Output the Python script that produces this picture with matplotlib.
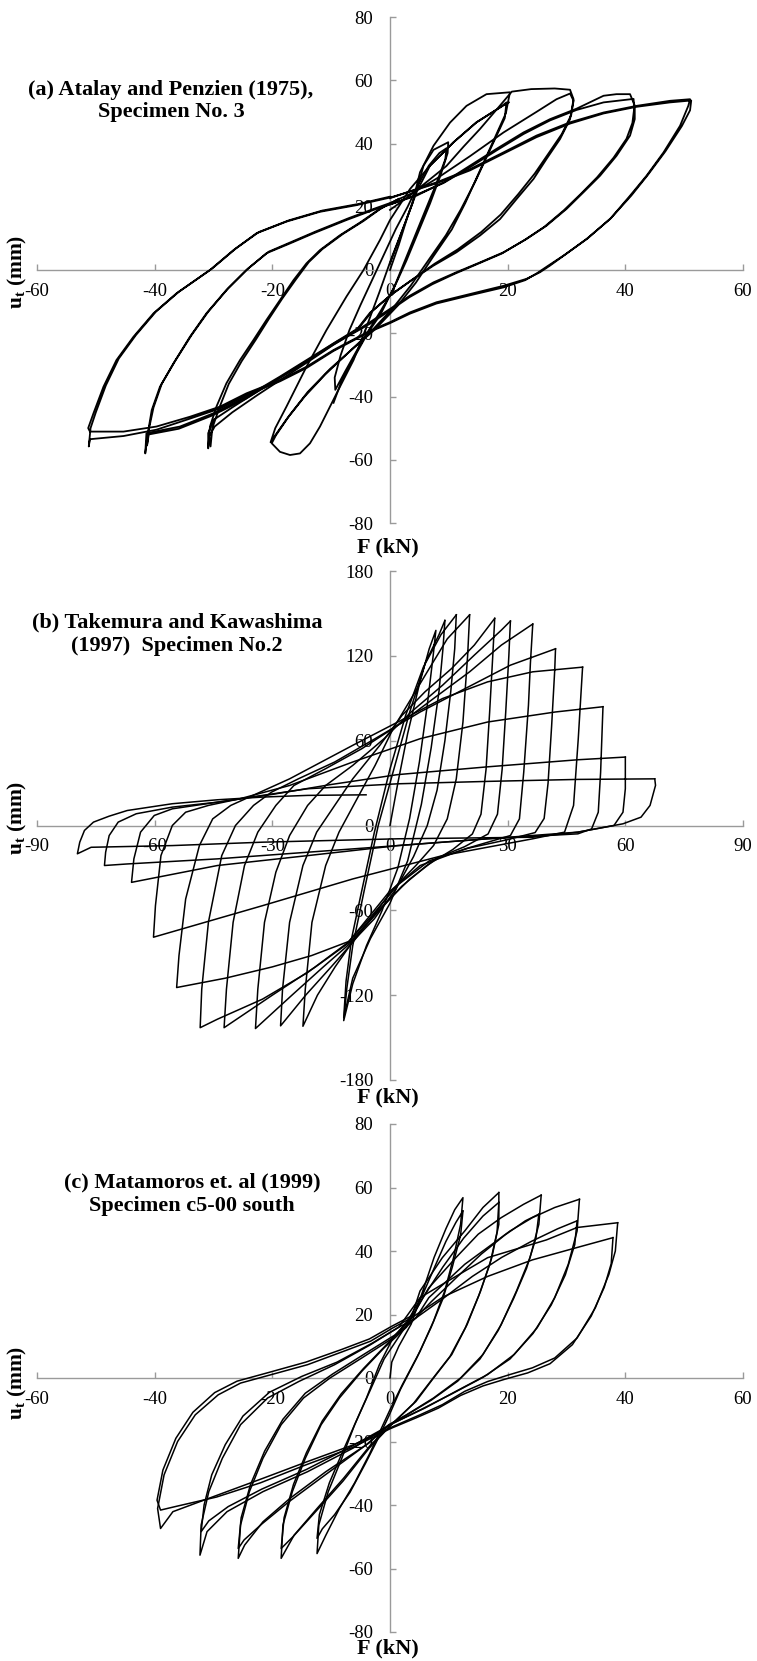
import numpy as np
import matplotlib
matplotlib.use("Agg")
import matplotlib.pyplot as plt

plt.rcParams["font.family"] = ["Liberation Serif", "DejaVu Serif"]
plt.rcParams["mathtext.fontset"] = "custom"
plt.rcParams["mathtext.rm"] = "Liberation Serif"
plt.rcParams["mathtext.bf"] = "Liberation Serif:bold"
plt.rcParams["mathtext.it"] = "Liberation Serif:italic"
plt.rcParams["axes.unicode_minus"] = False

# ---------------------------------------------------------------------------
# (a) Atalay and Penzien (1975), Specimen No. 3  -- one array per amplitude
# ---------------------------------------------------------------------------
a_loop10 = [(0.0, 0.0), (1.5, 8.0), (3.0, 17.0), (4.5, 25.0), (5.7, 33.0), (7.4, 38.0), (9.9, 40.4),
            (9.8, 37.0), (8.6, 30.0), (6.8, 21.0), (4.8, 12.0), (2.8, 3.0), (0.6, -6.0), (-1.6, -13.0),
            (-3.6, -19.0), (-5.8, -26.0), (-7.6, -32.0), (-9.3, -37.9), (-9.4, -34.0), (-8.4, -27.0),
            (-6.9, -19.0), (-5.0, -11.0), (-3.0, -3.0), (-1.0, 5.0), (1.0, 13.0), (3.0, 20.0), (4.8, 27.0),
            (6.6, 33.0), (8.4, 37.0), (9.6, 38.5), (9.4, 35.0), (7.8, 27.0), (5.6, 17.0), (3.2, 6.0),
            (0.8, -5.0), (-1.6, -14.0), (-3.8, -20.0), (-6.2, -28.0), (-8.2, -35.0), (-9.6, -42.0)]

a_loop20 = [(0.0, 2.0), (2.0, 12.0), (3.8, 21.0), (5.1, 30.9), (7.4, 39.3), (10.2, 46.6), (13.0, 51.9),
            (16.4, 55.6), (20.4, 56.2), (20.1, 53.5),
            (19.7, 49.6), (17.4, 40.1), (15.1, 30.7), (12.8, 21.2), (10.5, 12.8), (7.4, 4.4), (4.4, -4.0),
            (1.3, -11.3), (-2.5, -18.7), (-6.4, -25.0), (-10.2, -31.3), (-14.0, -38.6), (-17.1, -46.0),
            (-19.4, -52.3), (-20.1, -54.8),
            (-18.7, -57.5), (-17.0, -58.5), (-15.3, -58.0), (-13.6, -54.8), (-11.9, -49.5), (-10.2, -43.2),
            (-8.5, -36.9), (-6.2, -28.5), (-4.0, -18.0), (-1.8, -7.0), (0.3, 4.0), (2.6, 15.0), (4.6, 25.0),
            (6.8, 33.0), (10.8, 40.4), (14.7, 46.7), (18.7, 51.4), (19.8, 53.0),
            (19.5, 48.0), (17.0, 38.0), (14.5, 28.0), (12.0, 19.0), (9.5, 11.0), (6.5, 3.0), (3.5, -5.0),
            (0.5, -12.0), (-3.0, -19.0), (-7.0, -26.0), (-11.0, -33.0), (-14.5, -40.0), (-17.5, -47.0),
            (-19.6, -52.5), (-20.3, -54.5),
            (-19.5, -50.0), (-17.6, -43.2), (-14.2, -30.6), (-10.8, -19.0), (-7.4, -8.4), (-4.5, 0.0),
            (-1.7, 9.5), (0.0, 15.8), (3.4, 25.6), (6.8, 33.0), (10.8, 40.4), (14.7, 46.7), (18.7, 51.4),
            (20.2, 53.0)]

a_loop30 = [(0.0, 19.0), (3.0, 23.0), (6.0, 27.5), (9.6, 32.9), (12.5, 39.0), (15.3, 44.6), (18.7, 52.0),
            (20.7, 56.4), (24.0, 57.2), (28.0, 57.4), (30.6, 57.0), (31.2, 54.0),
            (30.6, 47.7), (28.9, 41.4), (26.6, 35.1), (24.4, 28.8), (21.5, 22.4), (18.7, 16.1), (15.3, 10.9),
            (11.3, 5.6), (7.4, 1.4), (4.0, -2.8), (0.0, -8.1), (-3.4, -13.5), (-5.5, -18.5), (-9.0, -22.5),
            (-13.0, -27.4), (-17.6, -32.7), (-22.1, -37.9), (-26.6, -43.2), (-30.0, -47.4), (-30.9, -51.6),
            (-30.9, -56.4),
            (-30.6, -49.5), (-29.5, -43.2), (-27.8, -35.8), (-25.5, -28.5), (-23.2, -22.1), (-21.0, -15.8),
            (-18.7, -9.5), (-16.4, -3.2), (-14.2, 2.1), (-11.9, 6.3), (-8.5, 11.0), (-5.1, 15.0), (-2.0, 19.0),
            (1.0, 22.0), (4.0, 24.5), (8.0, 29.0), (13.6, 36.0), (19.3, 43.5), (24.9, 50.0), (28.3, 54.0),
            (30.6, 55.8), (31.2, 53.5),
            (30.8, 49.0), (29.2, 43.0), (27.0, 37.0), (24.6, 30.5), (21.8, 24.0), (18.8, 17.5), (15.5, 12.0),
            (11.5, 6.5), (7.6, 2.0), (4.2, -2.5), (0.4, -7.5), (-3.0, -13.0), (-5.5, -18.8), (-9.5, -23.5),
            (-13.5, -28.5), (-18.0, -34.0), (-22.5, -39.5), (-26.8, -45.0), (-29.8, -49.5), (-30.7, -52.5),
            (-30.5, -55.8),
            (-30.2, -50.0), (-29.0, -43.5), (-27.4, -36.0), (-25.2, -28.8), (-22.8, -22.0), (-20.6, -15.5),
            (-18.3, -9.0), (-16.0, -3.0), (-13.8, 2.5), (-11.5, 6.6), (-8.0, 11.4), (-4.5, 15.5),
            (-1.5, 19.5), (1.5, 22.5)]

a_loop40 = [(0.0, 20.8), (4.5, 23.5), (9.1, 27.7), (13.6, 33.0), (18.1, 38.3), (22.7, 43.5), (27.2, 47.7),
            (31.7, 51.0), (36.3, 55.1), (38.5, 55.6), (40.8, 55.6), (41.6, 52.0),
            (41.6, 47.7), (40.8, 42.5), (38.5, 36.1), (35.7, 29.8), (32.9, 24.6), (30.0, 19.3), (26.6, 14.0),
            (23.2, 9.8), (19.3, 5.6), (15.3, 2.4), (11.3, -0.7), (7.4, -3.9), (3.4, -8.1), (0.0, -12.3),
            (-3.4, -16.5), (-5.1, -18.5), (-9.6, -23.2), (-14.2, -28.5), (-18.7, -33.7), (-24.4, -40.0),
            (-30.0, -45.3), (-35.7, -49.5), (-41.4, -51.6), (-41.6, -58.0),
            (-41.2, -52.0), (-40.5, -44.3), (-39.1, -36.9), (-36.8, -29.5), (-34.0, -21.1), (-31.2, -13.7),
            (-27.8, -6.3), (-24.4, 0.0), (-21.0, 5.3), (-17.0, 8.4), (-13.0, 11.6), (-7.4, 15.8),
            (-2.8, 19.0), (0.5, 21.0), (4.5, 23.8), (9.1, 27.5), (13.6, 32.5), (18.1, 37.8), (22.7, 43.0),
            (27.2, 47.3), (31.7, 50.6), (36.3, 53.0), (41.4, 54.1), (41.5, 51.0),
            (41.2, 46.5), (40.2, 41.5), (38.0, 35.5), (35.2, 29.3), (32.4, 24.0), (29.5, 18.8), (26.2, 13.6),
            (22.8, 9.4), (19.0, 5.2), (15.0, 2.0), (11.0, -1.2), (7.2, -4.5), (3.3, -8.6), (0.0, -12.8),
            (-3.4, -17.0), (-5.2, -18.9), (-9.8, -23.8), (-14.4, -29.2), (-19.0, -34.5), (-24.6, -40.8),
            (-30.2, -46.0), (-35.9, -50.2), (-41.0, -52.0), (-41.3, -55.5),
            (-41.0, -50.5), (-40.2, -43.5), (-38.8, -36.0), (-36.5, -28.7), (-33.7, -20.5), (-30.9, -13.2),
            (-27.5, -5.8), (-24.1, 0.5), (-20.6, 5.8), (-16.6, 9.0), (-12.6, 12.2), (-7.0, 16.4),
            (-2.5, 19.5), (0.5, 21.5)]

a_loop50 = [(0.0, 22.7), (4.5, 25.6), (7.9, 27.7), (13.6, 31.9), (19.3, 37.2), (24.9, 42.5), (30.6, 46.7),
            (36.3, 49.8), (41.9, 51.9), (47.6, 53.5), (51.0, 54.0), (50.7, 51.9),
            (49.3, 45.6), (46.5, 37.2), (43.6, 29.8), (40.8, 23.5), (37.4, 16.1), (33.4, 9.8), (29.5, 4.5),
            (27.2, 1.4), (25.5, -0.7), (23.2, -2.8), (19.3, -5.0), (13.6, -7.6), (7.9, -10.2), (3.4, -13.4),
            (0.0, -16.5), (-3.4, -19.2), (-9.6, -25.3), (-14.2, -30.6), (-18.7, -34.8), (-24.4, -39.0),
            (-28.9, -43.2), (-34.0, -46.4), (-39.7, -49.5), (-45.3, -51.1), (-51.0, -51.1),
            (-51.3, -50.0), (-50.4, -45.3), (-48.7, -36.9), (-46.5, -28.5), (-43.6, -21.1), (-40.2, -13.7),
            (-36.3, -7.4), (-30.6, 0.0), (-26.6, 6.3), (-22.7, 11.6), (-17.6, 15.3), (-11.9, 18.4),
            (-5.7, 20.5), (0.0, 22.9), (4.5, 25.4), (7.9, 27.4), (13.6, 31.5), (19.3, 36.8), (24.9, 42.0),
            (30.6, 46.3), (36.3, 49.5), (41.9, 51.6), (47.6, 53.0), (51.2, 53.6),
            (51.0, 50.5), (49.6, 45.5), (46.8, 37.5), (43.8, 30.0), (41.0, 23.5), (37.6, 16.5), (33.6, 10.0),
            (29.7, 4.8), (27.0, 1.5), (25.0, -1.0), (23.0, -3.2), (19.3, -5.5), (13.6, -8.0), (7.9, -10.6),
            (3.4, -13.8), (0.0, -16.8), (-3.4, -19.5), (-9.6, -25.6), (-14.2, -31.0), (-18.7, -35.2),
            (-24.4, -39.6), (-28.9, -43.8), (-34.0, -47.0), (-39.7, -50.5), (-45.3, -52.5), (-51.0, -53.5),
            (-51.2, -55.8),
            (-50.9, -50.0), (-50.0, -45.0), (-48.3, -36.5), (-46.1, -28.0), (-43.2, -20.6), (-39.8, -13.2),
            (-35.9, -6.9), (-30.2, 0.5), (-26.2, 6.8), (-22.3, 12.0), (-17.2, 15.7), (-11.5, 18.8),
            (-5.3, 20.9), (0.0, 23.2)]

# ---------------------------------------------------------------------------
# (b) Takemura and Kawashima (1997) Specimen No.2  -- one array per cycle
# ---------------------------------------------------------------------------
b_cyc01 = [(0.0, 0.0), (2.0, 30.0), (4.5, 65.0), (7.5, 100.0), (10.0, 125.0), (11.7, 138.0),
           (11.0, 120.0), (9.5, 85.0), (7.5, 45.0), (5.0, 5.0), (2.0, -30.0), (-2.0, -60.0), (-6.0, -85.0),
           (-9.5, -112.0), (-11.8, -138.0),
           (-11.0, -115.0), (-9.5, -85.0), (-6.5, -45.0), (-3.0, 0.0), (1.0, 40.0), (5.0, 80.0),
           (9.0, 115.0), (12.5, 135.0), (14.0, 145.0)]
b_cyc02 = [(14.0, 145.0), (13.5, 125.0), (12.5, 95.0), (10.5, 55.0), (8.0, 15.0), (4.5, -25.0), (0.0, -55.0),
           (-5.0, -80.0), (-9.5, -108.0), (-11.8, -136.0),
           (-11.2, -110.0), (-9.8, -80.0), (-7.5, -50.0), (-4.0, -5.0), (0.0, 40.0), (4.0, 78.0),
           (8.5, 112.0), (13.0, 135.0), (16.9, 149.0)]
b_cyc03 = [(16.9, 149.0), (16.5, 125.0), (15.5, 95.0), (14.0, 60.0), (12.0, 25.0), (9.5, 0.0), (6.0, -22.0),
           (1.5, -45.0), (-4.0, -66.0), (-9.5, -82.0), (-14.0, -100.0), (-18.5, -120.0), (-22.2, -142.0),
           (-21.6, -115.8), (-19.9, -68.5), (-16.4, -28.3), (-13.0, -4.7), (-8.4, 18.9), (-3.8, 42.5),
           (0.8, 68.5), (5.4, 89.8), (10.0, 111.0), (14.6, 132.0), (20.3, 149.0)]
b_cyc04 = [(20.3, 149.0), (19.8, 120.5), (18.6, 73.2), (16.9, 33.0), (14.6, 4.7), (11.1, -14.2), (6.6, -28.3),
           (0.8, -44.9), (-4.9, -66.1), (-9.5, -82.7), (-15.0, -100.0), (-21.5, -120.0), (-27.9, -141.7),
           (-27.4, -115.8), (-25.6, -68.5), (-22.2, -28.3), (-18.7, -4.7), (-14.1, 14.2), (-9.5, 33.0),
           (-2.6, 56.7), (3.1, 78.0), (8.9, 94.5), (15.7, 111.0), (21.5, 127.6), (26.7, 146.5)]
b_cyc05 = [(26.7, 146.5), (26.2, 120.0), (25.4, 80.0), (24.5, 40.0), (23.2, 8.0), (21.0, -6.0), (16.0, -17.0),
           (9.5, -28.0), (3.0, -43.0), (-4.0, -64.0), (-10.0, -83.0), (-17.0, -100.0), (-25.0, -120.0),
           (-34.3, -143.6),
           (-33.7, -115.8), (-32.0, -68.5), (-29.1, -33.0), (-25.6, -7.1), (-21.0, 14.2), (-16.4, 28.3),
           (-9.5, 42.5), (-1.5, 61.4), (5.4, 80.3), (13.4, 99.2), (21.5, 120.5), (28.4, 138.2), (30.7, 144.6)]
b_cyc06 = [(30.7, 144.6), (30.3, 120.0), (29.5, 80.0), (28.6, 40.0), (27.4, 8.0), (25.0, -6.0), (19.0, -15.0),
           (12.0, -23.0), (5.0, -38.0), (-3.0, -60.0), (-10.0, -82.0), (-19.0, -100.0), (-30.0, -120.0),
           (-42.3, -143.0),
           (-41.7, -115.8), (-40.0, -68.5), (-37.1, -28.3), (-33.7, -4.7), (-29.1, 14.2), (-24.5, 28.3),
           (-16.4, 40.2), (-7.2, 54.3), (2.0, 70.9), (11.1, 89.8), (20.3, 108.7), (28.4, 127.6),
           (34.1, 138.2), (36.4, 142.5)]
b_cyc07 = [(36.4, 142.5), (35.8, 115.0), (35.3, 85.0), (34.1, 37.8), (33.0, 4.7), (30.7, -7.1), (19.2, -16.5),
           (7.7, -28.3), (-0.3, -47.2), (-7.2, -70.9), (-10.7, -82.7), (-21.0, -104.0), (-32.5, -122.8),
           (-44.0, -137.0), (-48.4, -143.0),
           (-48.0, -115.8), (-46.3, -68.5), (-42.9, -21.3), (-39.4, 0.0), (-34.8, 14.2), (-30.2, 23.6),
           (-23.3, 33.1), (-14.1, 44.9), (-3.8, 61.4), (7.7, 80.3), (19.2, 96.9), (30.7, 113.4), (42.2, 125.0)]
b_cyc08 = [(42.2, 125.0), (42.0, 110.0), (41.2, 70.0), (40.3, 30.0), (39.3, 5.0), (37.0, -5.0), (30.0, -10.0),
           (20.0, -16.0), (10.0, -25.0), (2.0, -42.0), (-5.0, -65.0), (-10.5, -82.0), (-20.0, -92.0),
           (-30.0, -100.0), (-42.0, -108.0), (-54.4, -114.6),
           (-53.8, -92.0), (-52.1, -52.0), (-48.6, -14.2), (-45.2, 4.7), (-40.6, 14.2), (-25.6, 33.0),
           (-9.5, 56.7), (2.0, 73.2), (13.4, 89.8), (24.9, 101.6), (36.4, 108.7), (49.1, 112.0)]
b_cyc09 = [(49.1, 112.0), (48.0, 61.4), (46.8, 14.2), (44.5, -4.7), (36.4, -9.4), (13.4, -21.3),
           (-9.5, -37.8), (-32.5, -56.7), (-60.3, -79.0),
           (-59.8, -56.7), (-58.4, -21.3), (-55.5, 0.0), (-52.1, 9.4), (-46.3, 14.2), (-38.3, 18.9),
           (-25.6, 28.3), (-9.5, 44.9), (7.7, 61.4), (24.9, 73.2), (42.2, 80.3), (54.3, 84.0)]
b_cyc10 = [(54.3, 84.0), (53.7, 37.8), (53.1, 9.4), (51.4, -2.4), (47.9, -5.9), (24.9, -9.4), (2.0, -14.2),
           (-21.0, -21.3), (-44.0, -28.3), (-65.9, -40.2),
           (-65.3, -23.6), (-63.6, -4.7), (-60.1, 7.1), (-55.5, 11.8), (-44.0, 16.5), (-30.0, 22.0),
           (-15.0, 29.0), (2.0, 36.0), (24.9, 41.5), (47.9, 46.5), (60.0, 48.4)]
b_cyc11 = [(60.0, 48.4), (60.0, 26.0), (59.4, 9.4), (57.1, 0.0), (47.9, -4.7), (24.9, -9.4), (2.0, -14.2),
           (-21.0, -18.9), (-44.0, -23.6), (-67.0, -27.2), (-72.8, -28.3),
           (-72.5, -18.9), (-71.6, -7.1), (-69.3, 2.4), (-64.7, 8.3), (-55.5, 13.0), (-44.0, 16.5),
           (-32.5, 21.3), (-21.0, 26.0), (2.0, 29.5), (24.9, 31.2), (47.9, 32.6), (67.5, 33.0)]
b_cyc12 = [(67.5, 33.0), (67.7, 28.4), (66.3, 14.2), (64.0, 5.9), (59.4, 1.2), (47.9, -4.7), (36.4, -8.3),
           (2.0, -9.4), (-32.5, -11.8), (-55.5, -14.2), (-76.2, -15.4), (-79.7, -20.0),
           (-79.1, -11.8), (-77.9, -3.5), (-75.6, 2.4), (-71.6, 6.6), (-67.0, 10.6), (-55.5, 15.4),
           (-44.0, 18.2), (-32.5, 20.1), (-21.0, 21.3), (-6.1, 21.7)]

# ---------------------------------------------------------------------------
# (c) Matamoros et. al (1999) Specimen c5-00 south  -- one array per cycle
# ---------------------------------------------------------------------------
c_cyc01 = [(0.0, 0.0), (0.3, 5.0), (1.5, 10.0), (3.6, 17.0), (5.5, 27.0), (7.5, 38.0), (9.5, 47.0),
           (11.0, 53.0), (12.4, 56.8),
           (12.0, 48.4), (10.8, 37.9), (9.3, 27.4), (7.4, 17.9), (5.1, 8.4), (2.1, -2.1), (0.0, -10.0),
           (-1.5, -16.0), (-3.5, -24.0), (-6.0, -33.0), (-8.6, -41.1), (-10.9, -49.5), (-12.4, -55.3),
           (-12.1, -46.3), (-10.5, -35.8), (-8.2, -25.3), (-6.0, -14.7), (-4.0, -6.3), (-1.8, 4.2),
           (0.5, 12.6), (3.0, 18.0), (5.5, 26.0), (7.6, 35.0), (9.5, 43.0), (11.2, 49.0), (12.4, 52.6)]
c_cyc02 = [(12.4, 52.6), (12.0, 45.0), (10.6, 35.0), (9.0, 25.0), (7.0, 16.0), (4.6, 6.5), (1.8, -3.5),
           (-0.2, -12.0), (-2.0, -19.0), (-4.2, -27.0), (-6.8, -36.0), (-9.4, -43.0), (-11.5, -47.5),
           (-12.4, -50.5),
           (-12.0, -43.0), (-10.3, -33.0), (-8.0, -23.0), (-5.6, -13.0), (-3.4, -4.0), (-1.0, 6.0),
           (1.5, 13.0), (3.6, 18.9), (5.1, 27.4), (8.9, 37.9), (12.7, 46.3), (15.8, 53.7), (18.5, 58.4)]
c_cyc03 = [(18.5, 58.4), (18.5, 48.4), (17.3, 37.9), (15.4, 27.4), (13.1, 16.8), (10.5, 7.4), (7.4, 0.0),
           (4.4, -7.4), (0.5, -14.2), (-3.3, -21.1), (-7.9, -31.6), (-12.4, -41.1), (-16.3, -49.5),
           (-18.5, -56.8),
           (-18.2, -46.3), (-16.6, -35.8), (-14.4, -25.3), (-11.7, -14.7), (-8.6, -6.3), (-4.8, 2.1),
           (-1.0, 9.5), (2.8, 16.0), (5.5, 25.0), (9.0, 35.0), (12.5, 44.0), (15.8, 51.0), (18.5, 55.3)]
c_cyc04 = [(18.5, 55.3), (18.2, 46.0), (17.0, 36.0), (15.1, 26.0), (12.8, 15.8), (10.2, 6.8), (7.0, -0.8),
           (4.0, -8.0), (0.3, -14.6), (-3.5, -22.0), (-8.0, -32.5), (-12.6, -42.0), (-16.5, -50.0),
           (-18.5, -53.7),
           (-18.0, -44.0), (-16.4, -33.5), (-14.2, -23.5), (-11.5, -13.5), (-8.3, -5.0), (-4.5, 3.0),
           (-0.6, 10.5), (3.6, 18.9), (6.6, 28.4), (11.2, 37.9), (15.0, 45.3), (18.9, 50.5), (22.7, 54.7),
           (25.7, 57.6)]
c_cyc05 = [(25.7, 57.6), (25.3, 48.4), (23.8, 37.9), (21.5, 27.4), (18.9, 16.8), (15.8, 7.4), (12.0, 0.0),
           (7.4, -6.3), (2.8, -11.6), (-0.2, -14.7), (-3.6, -20.5), (-10.9, -29.5), (-17.0, -37.9),
           (-21.6, -45.3), (-24.7, -52.6), (-25.8, -56.8),
           (-25.4, -46.3), (-23.9, -35.8), (-21.6, -25.3), (-18.5, -14.7), (-14.7, -6.3), (-10.2, 0.0),
           (-4.8, 6.3), (0.5, 12.6), (3.6, 17.5), (7.0, 24.0), (11.5, 32.0), (15.5, 39.0), (19.5, 45.0),
           (23.0, 49.5), (25.3, 51.6)]
c_cyc06 = [(25.3, 51.6), (24.8, 44.0), (23.2, 34.5), (21.0, 25.0), (18.4, 15.0), (15.3, 6.0), (11.5, -1.0),
           (7.0, -7.0), (2.5, -12.0), (-0.5, -15.2), (-4.0, -21.0), (-11.0, -30.5), (-17.2, -39.0),
           (-21.8, -46.0), (-24.8, -51.0), (-25.8, -53.7),
           (-25.3, -44.0), (-23.7, -33.5), (-21.3, -23.0), (-18.2, -13.0), (-14.4, -4.8), (-9.8, 1.2),
           (-4.4, 7.5), (0.8, 13.5), (4.4, 18.9), (6.6, 25.3), (12.7, 35.8), (16.6, 41.1), (20.4, 46.3),
           (24.2, 50.5), (28.0, 53.7), (32.2, 56.3)]
c_cyc07 = [(32.2, 56.3), (31.8, 46.3), (30.3, 35.8), (28.0, 25.3), (25.0, 15.8), (21.1, 7.4), (16.6, 1.1),
           (11.2, -4.2), (5.9, -9.5), (0.5, -14.2), (-6.3, -22.1), (-14.0, -29.5), (-21.6, -35.8),
           (-27.7, -42.1), (-31.1, -48.4), (-32.3, -55.8),
           (-32.1, -46.3), (-30.8, -35.8), (-28.5, -25.3), (-25.4, -14.7), (-20.8, -6.3), (-15.5, -1.1),
           (-9.4, 4.2), (-3.3, 10.5), (1.3, 15.8), (4.4, 18.9), (9.0, 25.0), (14.0, 32.0), (19.0, 38.0),
           (24.0, 43.0), (28.5, 47.0), (31.8, 49.5)]
c_cyc08 = [(31.8, 49.5), (31.4, 42.0), (29.8, 32.5), (27.4, 23.0), (24.3, 14.0), (20.4, 6.0), (15.8, 0.2),
           (10.5, -5.0), (5.2, -10.0), (0.2, -14.6), (-6.5, -21.5), (-14.2, -28.8), (-21.8, -35.0),
           (-27.5, -40.5), (-30.8, -45.0), (-32.1, -48.4),
           (-31.6, -40.0), (-30.3, -30.5), (-28.0, -21.0), (-25.0, -12.0), (-20.5, -4.5), (-15.0, 0.5),
           (-9.0, 5.0), (-3.0, 11.0), (1.5, 16.0), (5.1, 25.3), (8.9, 29.5), (16.6, 37.9), (26.6, 43.5),
           (31.8, 47.4), (38.7, 48.9)]
c_cyc09 = [(38.7, 48.9), (38.3, 40.0), (37.2, 32.6), (34.9, 22.1), (31.8, 12.6), (28.0, 6.3), (24.2, 3.2),
           (20.4, 1.1), (16.6, -1.1), (12.7, -4.2), (8.9, -8.4), (5.1, -11.6), (0.5, -15.3), (-6.3, -21.1),
           (-14.0, -26.3), (-21.6, -31.6), (-29.2, -36.8), (-36.9, -42.1), (-39.0, -47.4),
           (-39.5, -41.1), (-38.4, -30.5), (-36.1, -20.0), (-33.1, -11.6), (-29.2, -5.3), (-25.4, -1.6),
           (-20.1, 1.1), (-14.0, 4.2), (-7.9, 8.4), (-3.3, 11.6), (0.5, 15.8), (3.6, 18.9), (9.0, 25.5),
           (16.6, 32.0), (24.2, 37.2), (31.8, 41.1), (37.9, 44.2)]
c_cyc10 = [(37.9, 44.2), (37.6, 36.0), (36.4, 28.5), (34.2, 19.5), (31.0, 10.5), (27.2, 4.5), (23.4, 1.6),
           (19.5, -0.4), (15.8, -2.5), (12.0, -5.5), (8.2, -9.5), (4.5, -12.5), (0.0, -16.0),
           (-6.5, -22.0), (-14.5, -27.5), (-22.0, -33.0), (-29.5, -37.5), (-36.5, -40.5), (-39.0, -41.6),
           (-39.6, -38.5), (-38.6, -29.0), (-36.4, -19.0), (-33.5, -10.8), (-29.8, -4.6), (-26.0, -1.0),
           (-20.5, 1.8), (-14.3, 5.0), (-8.2, 9.0), (-3.5, 12.3), (0.3, 16.3), (3.6, 19.5)]

a_loops = [a_loop10, a_loop20, a_loop30, a_loop40, a_loop50]
b_loops = [b_cyc01, b_cyc02, b_cyc03, b_cyc04, b_cyc05, b_cyc06,
           b_cyc07, b_cyc08, b_cyc09, b_cyc10, b_cyc11, b_cyc12]
c_loops = [c_cyc01, c_cyc02, c_cyc03, c_cyc04, c_cyc05, c_cyc06,
           c_cyc07, c_cyc08, c_cyc09, c_cyc10]

titles = ["(a) Atalay and Penzien (1975),\nSpecimen No. 3",
          "(b) Takemura and Kawashima\n(1997)  Specimen No.2",
          "(c) Matamoros et. al (1999)\nSpecimen c5-00 south"]
x_limits = [60, 90, 60]
y_limits = [80, 180, 80]
x_steps = [20, 30, 20]
y_steps = [20, 60, 20]
line_widths = [1.3, 1.1, 1.1]

# ---------------------------------------------------------------------------
W, H = 757, 1661
fig = plt.figure(figsize=(W / 100, H / 100), dpi=100)
AXIS_GREY = "#9a9a9a"

# pixel rows of each panel: (top, bottom), plus label placements
rows = [(17, 523), (571, 1080), (1124, 1632)]
title_pos = [(171, 101), (177, 634), (192, 1194)]
xlabel_y = [547, 1097, 1648]
ylabel_y = [272, 818, 1383]
left_px, right_px = 37, 743

for k, loops in enumerate([a_loops, b_loops, c_loops]):
    top, bot = rows[k]
    ax = fig.add_axes([left_px / W, 1 - bot / H, (right_px - left_px) / W, (bot - top) / H])
    ax.patch.set_alpha(0)
    for loop in loops:
        arr = np.asarray(loop)
        ax.plot(arr[:, 0], arr[:, 1], color="black", lw=line_widths[k], zorder=3,
                solid_joinstyle="round")
    xm, ym = x_limits[k], y_limits[k]
    ax.set_xlim(-xm, xm)
    ax.set_ylim(-ym, ym)
    ax.set_xticks(np.arange(-xm, xm + 1, x_steps[k]))
    ax.set_yticks(np.arange(-ym, ym + 1, y_steps[k]))
    for side in ("top", "right"):
        ax.spines[side].set_visible(False)
    for side in ("left", "bottom"):
        ax.spines[side].set_position(("data", 0))
        ax.spines[side].set_color(AXIS_GREY)
        ax.spines[side].set_linewidth(1.0)
    ax.tick_params(direction="in", length=4, width=1.0, color=AXIS_GREY, labelsize=13.5,
                   labelcolor="black")
    ax.tick_params(axis="x", pad=9)
    ax.tick_params(axis="y", pad=12)

    tx, ty = title_pos[k]
    fig.text(tx / W, 1 - ty / H, titles[k], ha="center", va="center", fontsize=16,
             fontweight="bold", linespacing=1.2)
    fig.text(388 / W, 1 - xlabel_y[k] / H, "F (kN)", ha="center", va="center", fontsize=16,
             fontweight="bold")
    fig.text(17 / W, 1 - ylabel_y[k] / H, r"$\mathbf{u_t}$ (mm)", ha="center", va="center",
             rotation=90, fontsize=15.5, fontweight="bold")

fig.savefig("out.png", dpi=100)
